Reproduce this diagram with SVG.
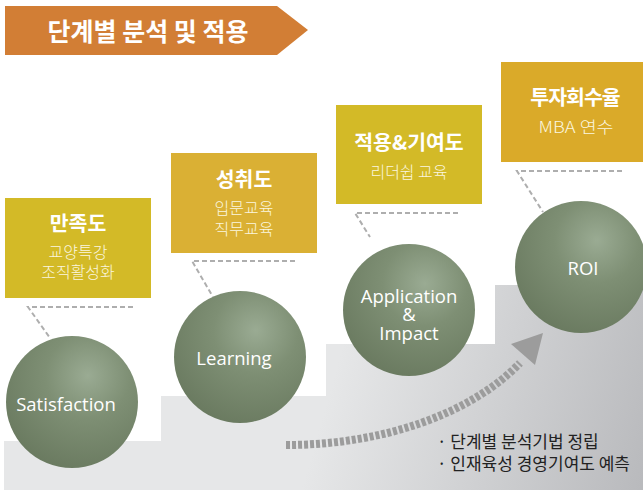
<svg xmlns="http://www.w3.org/2000/svg" width="643" height="490" viewBox="0 0 643 490">
<defs>
<radialGradient id="sphere" cx="0.62" cy="0.3" r="0.8" fx="0.62" fy="0.3">
<stop offset="0" stop-color="#9AAB93"/>
<stop offset="0.4" stop-color="#7E8F74"/>
<stop offset="1" stop-color="#67775D"/>
</radialGradient>
<linearGradient id="stairs" gradientUnits="userSpaceOnUse" x1="330" y1="390" x2="643" y2="480">
<stop offset="0" stop-color="#E6E7E8"/>
<stop offset="1" stop-color="#B9BABD"/>
</linearGradient>
<style>
.title{font-family:"Noto Sans CJK KR","Noto Sans",sans-serif;font-weight:bold;font-size:20.5px;fill:#FFFFFF;text-anchor:middle}
.sub{font-family:"Noto Sans CJK KR","Noto Sans",sans-serif;font-weight:300;font-size:16px;fill:#FBF6DF;text-anchor:middle}
.ctext{font-family:"Open Sans","Liberation Sans",sans-serif;font-size:18.5px;fill:#FFFFFF;text-anchor:middle}
.lead{fill:none;stroke:#AEAEAE;stroke-width:2;stroke-dasharray:5 3}
.bul{font-family:"Noto Sans CJK KR","Noto Sans",sans-serif;font-size:17px;fill:#222222}
</style>
</defs>
<rect width="643" height="490" fill="#FFFFFF"/>
<path d="M4,441 L161,441 L161,396 L326,396 L326,344 L495,344 L495,285 L643,285 L643,490 L4,490 Z" fill="url(#stairs)"/>
<g id="banner">
<path d="M5,6 L277,6 L308,30 L277,55 L5,55 Z" fill="#D27E35"/>
<text x="148" y="41" font-family="'Noto Sans CJK KR','Noto Sans',sans-serif" font-weight="bold" font-size="25" fill="#FFFFFF" text-anchor="middle">단계별 분석 및 적용</text>
</g>
<g id="connectors">
<path class="lead" d="M133,307 L28,307 L50,338"/>
<path class="lead" d="M295,261 L192,261 L213,297"/>
<path class="lead" d="M458,213 L355,213 L370,237"/>
<path class="lead" d="M622,171 L517,171 L543,212"/>
<path d="M286,445 C380,445 470,415 520,363" fill="none" stroke="#9C9C9C" stroke-width="8" stroke-dasharray="4 2"/>
<path d="M543,333 L511,344 L535,365 Z" fill="#9C9C9C"/>
</g>
<g id="box-satisfaction">
<rect x="5" y="198" width="146" height="100" fill="#D3BA27"/>
<text class="title" x="78" y="231">만족도</text>
<text class="sub" x="78" y="258">교양특강</text>
<text class="sub" x="78" y="278">조직활성화</text>
</g>
<g id="box-learning">
<rect x="171" y="153" width="146" height="100" fill="#DAB034"/>
<text class="title" x="244" y="187">성취도</text>
<text class="sub" x="244" y="214">입문교육</text>
<text class="sub" x="244" y="235">직무교육</text>
</g>
<g id="box-application">
<rect x="336" y="105" width="146" height="99" fill="#D3BA27"/>
<text class="title" x="409" y="150">적용&amp;기여도</text>
<text class="sub" x="409" y="178">리더쉽 교육</text>
</g>
<g id="box-roi">
<rect x="501" y="62" width="142" height="100" fill="#DAAA29"/>
<text class="title" x="575" y="105" letter-spacing="-1">투자회수율</text>
<text class="sub" x="576" y="133" textLength="75" lengthAdjust="spacingAndGlyphs">MBA 연수</text>
</g>
<g id="node-satisfaction">
<circle cx="72" cy="402" r="66" fill="url(#sphere)"/>
<text class="ctext" x="66" y="411">Satisfaction</text>
</g>
<g id="node-learning">
<circle cx="240" cy="357" r="66" fill="url(#sphere)"/>
<text class="ctext" x="234" y="365">Learning</text>
</g>
<g id="node-application">
<circle cx="409" cy="310" r="66" fill="url(#sphere)"/>
<text class="ctext" x="409" y="303">Application</text>
<text class="ctext" x="409" y="321">&amp;</text>
<text class="ctext" x="409" y="340">Impact</text>
</g>
<g id="node-roi">
<circle cx="581" cy="267" r="66" fill="url(#sphere)"/>
<text class="ctext" x="583" y="275">ROI</text>
</g>
<g id="notes">
<text class="bul" x="437" y="448">· 단계별 분석기법 정립</text>
<text class="bul" x="437" y="470">· 인재육성 경영기여도 예측</text>
</g>
</svg>
